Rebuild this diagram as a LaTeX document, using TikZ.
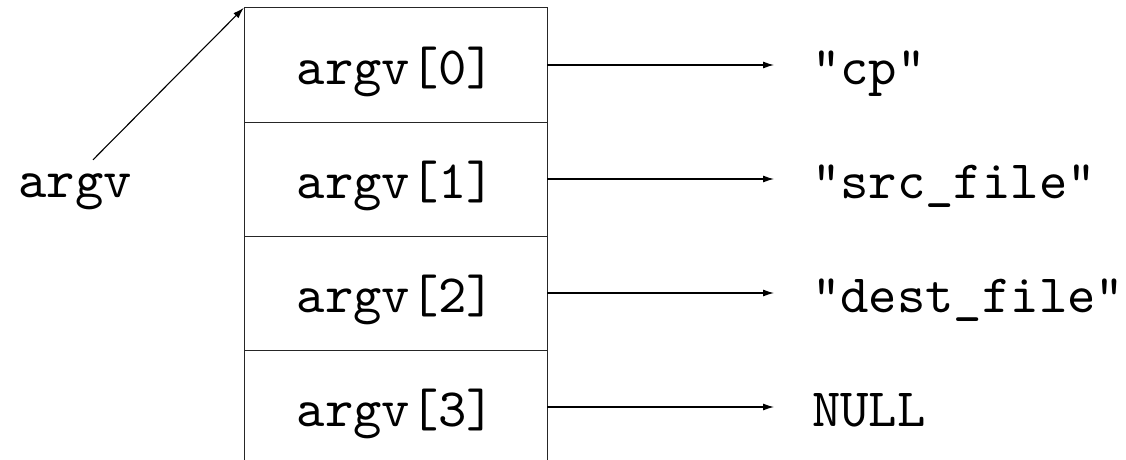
\documentclass[tikz,border=0pt]{standalone}
\usepackage{fontspec}
\newfontfamily\cmttfont{lmmono10-regular.otf}
\usetikzlibrary{arrows.meta}
\begin{document}
\begin{tikzpicture}[x=1pt,y=1pt,
  txt/.style={font=\fontsize{54pt}{60pt}\selectfont\cmttfont, inner sep=0pt, text height=50pt, text depth=12pt},
  cell/.style={txt, minimum width=302pt, minimum height=114pt},
  grid/.style={line width=1.2pt, draw=black!85},
  ptr/.style={line width=1.1pt, -{Latex[length=11pt,width=7pt]}}]
\useasboundingbox (0,0) rectangle (1126,459);
\node[cell] (c0) at (396,394) {argv[0]};
\node[cell] (c1) at (396,280) {argv[1]};
\node[cell] (c2) at (396,166) {argv[2]};
\node[cell] (c3) at (396,52) {argv[3]};
\draw[grid] (c3.south west) -- (c0.north west) -- (c0.north east) -- (c3.south east);
\draw[grid] (c0.south west) -- (c0.south east);
\draw[grid] (c1.south west) -- (c1.south east);
\draw[grid] (c2.south west) -- (c2.south east);
\node[txt, anchor=west] (l0) at (812,394) {"cp"};
\node[txt, anchor=west] (l1) at (812,280) {"src\_file"};
\node[txt, anchor=west] (l2) at (812,166) {"dest\_file"};
\node[txt, anchor=west] (l3) at (812,52) {NULL};
\foreach \i in {0,1,2,3}
  \draw[ptr] (c\i.east) -- ([xshift=-38pt]l\i.west);
\node[txt] (a) at (75,281) {argv};
\draw[ptr] ([xshift=18pt,yshift=-13pt]a.north) -- ([xshift=-1pt]c0.north west);
\end{tikzpicture}
\end{document}
